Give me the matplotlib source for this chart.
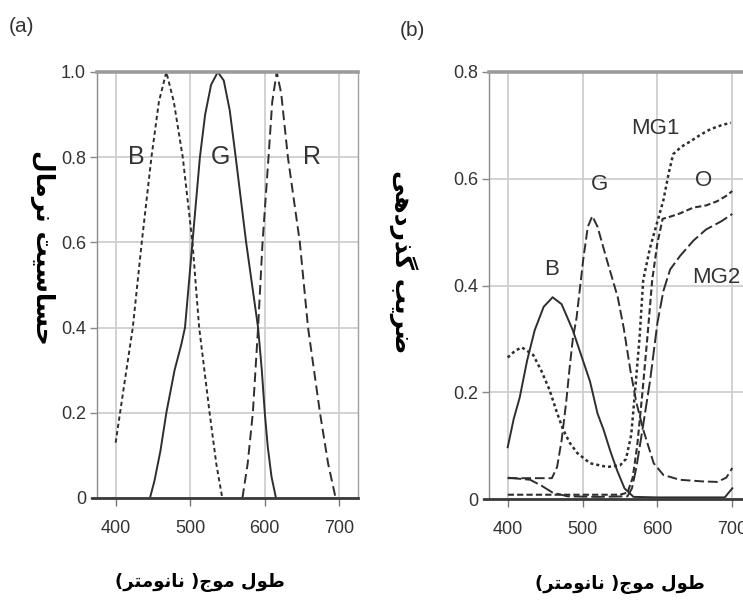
import numpy as np
import matplotlib
matplotlib.use("Agg")
import matplotlib.pyplot as plt

# ---- data: panel (a) normalized sensitivity ----
a_B_wl = [400, 411, 423, 435, 448, 458, 468, 478, 490, 503, 512, 526, 535, 543]
a_B = [0.13, 0.26, 0.40, 0.60, 0.80, 0.93, 1.0, 0.93, 0.80, 0.60, 0.40, 0.20, 0.08, 0.0]
a_G_wl = [446, 452, 460, 468, 479, 488, 493, 498, 503, 508, 513, 520, 528, 537, 545, 553,
          561, 568, 575, 583, 591, 596, 600, 604, 609, 615]
a_G = [0.0, 0.04, 0.11, 0.20, 0.30, 0.36, 0.40, 0.50, 0.60, 0.70, 0.80, 0.90, 0.97, 1.0, 0.98, 0.91,
       0.80, 0.70, 0.60, 0.50, 0.40, 0.30, 0.20, 0.12, 0.05, 0.0]
a_R_wl = [570, 577, 584, 591, 597, 605, 610, 616, 622, 631, 647, 658, 674, 685, 695]
a_R = [0.0, 0.08, 0.20, 0.40, 0.60, 0.80, 0.93, 1.0, 0.95, 0.80, 0.60, 0.40, 0.20, 0.08, 0.0]

# ---- data: panel (b) transmittance ----
b_B_wl = [400, 408, 416, 426, 436, 448, 460, 472, 487, 498, 510, 520, 528, 537, 546, 556, 568, 600, 690, 700]
b_B = [0.097, 0.15, 0.19, 0.26, 0.316, 0.36, 0.378, 0.365, 0.316, 0.27, 0.22, 0.16, 0.13, 0.09, 0.054,
       0.02, 0.004, 0.003, 0.003, 0.02]
b_G_wl = [400, 459, 466, 472, 478, 483, 487, 492, 501, 507, 513, 520, 532, 547, 555, 564, 572, 581,
          595, 608, 630, 660, 680, 692, 700]
b_G = [0.039, 0.039, 0.06, 0.11, 0.18, 0.25, 0.30, 0.34, 0.45, 0.51, 0.53, 0.51, 0.45, 0.378, 0.32,
       0.24, 0.18, 0.13, 0.067, 0.045, 0.036, 0.033, 0.032, 0.04, 0.058]
b_MG1_wl = [400, 410, 419, 434, 445, 456, 465, 474, 483, 493, 510, 533, 550, 558, 565, 570, 576, 581,
            590, 600, 608, 615, 621, 632, 644, 657, 671, 685, 698]
b_MG1 = [0.265, 0.278, 0.284, 0.27, 0.24, 0.204, 0.165, 0.13, 0.105, 0.086, 0.067, 0.06, 0.063, 0.075,
         0.12, 0.20, 0.30, 0.41, 0.47, 0.52, 0.56, 0.61, 0.646, 0.66, 0.67, 0.682, 0.693, 0.70, 0.705]
b_O_wl = [400, 550, 560, 567, 573, 580, 587, 593, 600, 607, 615, 630, 648, 665, 680, 692, 700]
b_O = [0.008, 0.008, 0.012, 0.04, 0.10, 0.20, 0.31, 0.41, 0.48, 0.525, 0.528, 0.535, 0.546, 0.55,
       0.558, 0.568, 0.577]
b_MG2_wl = [400, 430, 445, 460, 480, 520, 560, 566, 572, 580, 590, 600, 608, 617, 630, 648, 665, 685, 700]
b_MG2 = [0.04, 0.036, 0.025, 0.012, 0.005, 0.004, 0.005, 0.02, 0.06, 0.13, 0.22, 0.33, 0.39, 0.43,
         0.455, 0.484, 0.505, 0.52, 0.534]

x_ticks = [400, 500, 600, 700]
a_yticks = [0, 0.2, 0.4, 0.6, 0.8, 1.0]
a_ylabels = ["0", "0.2", "0.4", "0.6", "0.8", "1.0"]
b_yticks = [0, 0.2, 0.4, 0.6, 0.8]
b_ylabels = ["0", "0.2", "0.4", "0.6", "0.8"]

xlabel_fa = "طول موج( نانومتر)"
a_ylabel_fa = "حساسیت نرمال"
b_ylabel_fa = "ضریب گذردهی"

# ---- simple persian shaping (matplotlib has no bidi / joining) ----
# iso, fin, ini, med
FORMS = {
    'ا': ('\uFE8D', '\uFE8E', None, None),
    'ب': ('\uFE8F', '\uFE90', '\uFE91', '\uFE92'),
    'ت': ('\uFE95', '\uFE96', '\uFE97', '\uFE98'),
    'ج': ('\uFE9D', '\uFE9E', '\uFE9F', '\uFEA0'),
    'ح': ('\uFEA1', '\uFEA2', '\uFEA3', '\uFEA4'),
    'د': ('\uFEA9', '\uFEAA', None, None),
    'ذ': ('\uFEAB', '\uFEAC', None, None),
    'ر': ('\uFEAD', '\uFEAE', None, None),
    'س': ('\uFEB1', '\uFEB2', '\uFEB3', '\uFEB4'),
    'ض': ('\uFEBD', '\uFEBE', '\uFEBF', '\uFEC0'),
    'ط': ('\uFEC1', '\uFEC2', '\uFEC3', '\uFEC4'),
    'ل': ('\uFEDD', '\uFEDE', '\uFEDF', '\uFEE0'),
    'م': ('\uFEE1', '\uFEE2', '\uFEE3', '\uFEE4'),
    'ن': ('\uFEE5', '\uFEE6', '\uFEE7', '\uFEE8'),
    'ه': ('\uFEE9', '\uFEEA', '\uFEEB', '\uFEEC'),
    'و': ('\uFEED', '\uFEEE', None, None),
    'ی': ('\uFBFC', '\uFBFD', '\uFBFE', '\uFBFF'),
    'گ': ('\uFB92', '\uFB93', '\uFB94', '\uFB95'),
}


def shape_fa(s):
    out = []
    for i, ch in enumerate(s):
        if ch not in FORMS:
            out.append(ch)
            continue
        prev = s[i - 1] if i > 0 else ''
        nxt = s[i + 1] if i + 1 < len(s) else ''
        jp = prev in FORMS and FORMS[prev][2] is not None
        jn = nxt in FORMS and FORMS[ch][2] is not None
        f = FORMS[ch]
        if jp and jn:
            out.append(f[3])
        elif jp:
            out.append(f[1])
        elif jn:
            out.append(f[2])
        else:
            out.append(f[0])
    vis = ''.join(out)[::-1]
    return vis.translate(str.maketrans('()', ')('))


LINE = '#2e2e2e'
GRID = '#cfcfcf'
NUMFONT = ['Liberation Sans', 'DejaVu Sans']
FAFONT = ['DejaVu Sans']

fig = plt.figure(figsize=(7.43, 6.16), dpi=100)


def setup_axes(ax, ymax, yticks, ylabels):
    ax.set_xlim(375, 725)
    ax.set_ylim(0, ymax)
    ax.set_xticks(x_ticks)
    ax.set_xticklabels([str(t) for t in x_ticks], family=NUMFONT, fontsize=13, color='#333333')
    ax.set_yticks(yticks)
    ax.set_yticklabels(ylabels, family=NUMFONT, fontsize=13, color='#333333')
    ax.grid(True, color=GRID, lw=1.3)
    ax.set_axisbelow(True)
    ax.tick_params(axis='y', length=5, width=1, color='#888888', pad=3)
    ax.tick_params(axis='x', length=6, width=1, color='#777777', pad=10)
    ax.spines['top'].set_color('#9c9c9c')
    ax.spines['top'].set_linewidth(2.6)
    ax.spines['left'].set_color('#8a8a8a')
    ax.spines['left'].set_linewidth(1.0)
    ax.spines['right'].set_color('#a0a0a0')
    ax.spines['right'].set_linewidth(1.0)
    ax.spines['bottom'].set_visible(False)
    ax.axhline(0, xmin=-0.018, xmax=1.0, color='#3a3a3a', lw=2.0, clip_on=False, zorder=5)


# panel (a)
ax1 = fig.add_axes([97 / 743, 118 / 616, 261 / 743, 426 / 616])
setup_axes(ax1, 1.0, a_yticks, a_ylabels)
ax1.plot(a_B_wl, a_B, color=LINE, lw=1.4, dashes=(2.2, 1.6))
ax1.plot(a_G_wl, a_G, color=LINE, lw=1.4)
ax1.plot(a_R_wl, a_R, color=LINE, lw=1.4, dashes=(5, 2.5))
for txt, x, y in [("B", 428, 0.8), ("G", 540, 0.8), ("R", 663, 0.8)]:
    ax1.text(x, y, txt, family=NUMFONT, fontsize=18, color='#333333', ha='center', va='center')

# panel (b)
ax2 = fig.add_axes([489 / 743, 117 / 616, 262 / 743, 427 / 616])
setup_axes(ax2, 0.8, b_yticks, b_ylabels)
ax2.plot(b_B_wl, b_B, color=LINE, lw=1.4)
ax2.plot(b_G_wl, b_G, color=LINE, lw=1.4, dashes=(5, 2))
ax2.plot(b_MG1_wl, b_MG1, color=LINE, lw=1.8, dashes=(1.2, 1.2))
ax2.plot(b_O_wl, b_O, color=LINE, lw=1.5, dashes=(3, 1.5))
ax2.plot(b_MG2_wl, b_MG2, color=LINE, lw=1.4, dashes=(7, 2))
for txt, x, y in [("B", 459, 0.43), ("G", 523, 0.59), ("MG1", 597, 0.695),
                  ("O", 662, 0.596), ("MG2", 679, 0.415)]:
    ax2.text(x, y, txt, family=NUMFONT, fontsize=16, color='#333333', ha='center', va='center')

# panel letters
fig.text(22 / 743, 1 - 27 / 616, "(a)", family=NUMFONT, fontsize=15, color='#333333',
         ha='center', va='center')
fig.text(412 / 743, 1 - 30 / 616, "(b)", family=NUMFONT, fontsize=15, color='#333333',
         ha='center', va='center')

# persian axis labels
fig.text(200 / 743, 1 - 582 / 616, shape_fa(xlabel_fa), family=FAFONT, fontsize=13,
         fontweight='bold', ha='center', va='center')
fig.text(620 / 743, 1 - 585 / 616, shape_fa(xlabel_fa), family=FAFONT, fontsize=13,
         fontweight='bold', ha='center', va='center')
fig.text(43 / 743, 1 - 247 / 616, shape_fa(a_ylabel_fa), family=FAFONT, fontsize=18,
         fontweight='bold', ha='center', va='center', rotation=270)
fig.text(403 / 743, 1 - 262 / 616, shape_fa(b_ylabel_fa), family=FAFONT, fontsize=18,
         fontweight='bold', ha='center', va='center', rotation=270)

fig.savefig("out.png", dpi=100)
